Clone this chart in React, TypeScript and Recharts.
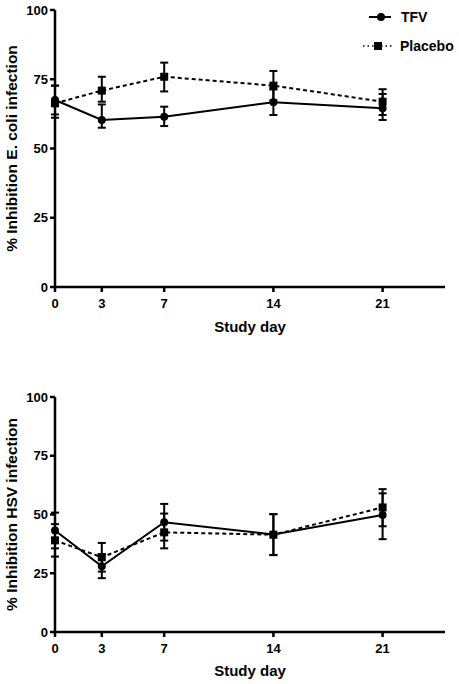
import React from 'react';
import { LineChart, Line, XAxis, YAxis, ErrorBar, Legend } from 'recharts';

const days = [0, 3, 7, 14, 21];
const yTicks = [0, 25, 50, 75, 100];

const ecoliTFV = [67.5, 60.3, 61.5, 66.7, 64.5];
const ecoliTFVErr = [[5.2, 5.2], [2.8, 5.6], [3.4, 3.6], [4.6, 4.6], [4.2, 5.2]];
const ecoliPlacebo = [66.3, 70.9, 75.9, 72.7, 66.9];
const ecoliPlaceboErr = [[5.2, 6.4], [4.0, 5.0], [5.3, 5.1], [5.3, 5.3], [4.8, 4.5]];

const hsvTFV = [43.2, 28.0, 46.7, 41.5, 49.8];
const hsvTFVErr = [[7.6, 7.6], [5.1, 5.1], [7.8, 7.8], [8.7, 8.7], [10.3, 9.2]];
const hsvPlacebo = [39.0, 31.8, 42.4, 41.4, 53.0];
const hsvPlaceboErr = [[6.9, 6.9], [6.1, 6.1], [6.8, 8.0], [8.7, 8.7], [8.0, 7.8]];

const FONT = '"Liberation Sans", Arial, Helvetica, sans-serif';

function build(tfv: number[], tfvErr: number[][], pl: number[], plErr: number[][]) {
  return days.map((d, i) => ({
    day: d,
    tfv: tfv[i],
    tfvErr: tfvErr[i],
    placebo: pl[i],
    placeboErr: plErr[i],
  }));
}

const ecoliData = build(ecoliTFV, ecoliTFVErr, ecoliPlacebo, ecoliPlaceboErr);
const hsvData = build(hsvTFV, hsvTFVErr, hsvPlacebo, hsvPlaceboErr);

const SquareDot = (props: any) => {
  const { cx, cy, index } = props;
  if (cx == null || cy == null) return <g key={`sq-${index}`} />;
  return <rect key={`sq-${index}`} x={cx - 4} y={cy - 4} width={8} height={8} fill="#000" />;
};

const LegendContent = () => (
  <svg width={99} height={60} style={{ display: 'block' }}>
    <line x1={9} y1={17} x2={31} y2={17} stroke="#000" strokeWidth={2} />
    <circle cx={21} cy={17} r={4} fill="#000" />
    <text x={41} y={17} dy="0.36em" fontFamily={FONT} fontWeight="bold" fontSize={14} fill="#000">TFV</text>
    <line x1={3} y1={46} x2={33} y2={46} stroke="#000" strokeWidth={1.5} strokeDasharray="1.5 3" />
    <rect x={14} y={42} width={8} height={8} fill="#000" />
    <text x={40} y={46} dy="0.36em" fontFamily={FONT} fontWeight="bold" fontSize={14} fill="#000">Placebo</text>
  </svg>
);

const axisStyle = { stroke: '#000', strokeWidth: 2.5 };
const tickStyle = { fill: '#000', fontSize: 13, fontWeight: 'bold', fontFamily: FONT };

function Panel({ data, yLabel, marginTop, xAxisHeight, titleOffset, showLegend }: any) {
  return (
    <LineChart
      width={459}
      height={342}
      data={data}
      margin={{ top: marginTop, right: 14, bottom: 0, left: 0 }}
    >
      <XAxis
        type="number"
        dataKey="day"
        domain={[0, 25]}
        ticks={days}
        interval={0}
        height={xAxisHeight}
        tickSize={5}
        tickMargin={7}
        axisLine={axisStyle}
        tickLine={axisStyle}
        tick={tickStyle}
        label={{
          value: 'Study day',
          position: 'insideBottom',
          offset: titleOffset,
          style: { fill: '#000', fontSize: 15, fontWeight: 'bold', fontFamily: FONT },
        }}
      />
      <YAxis
        type="number"
        domain={[0, 100]}
        ticks={yTicks}
        interval={0}
        width={55}
        tickSize={5}
        tickMargin={2}
        axisLine={axisStyle}
        tickLine={axisStyle}
        tick={tickStyle}
        label={{
          value: yLabel,
          angle: -90,
          position: 'insideLeft',
          offset: 11,
          style: { textAnchor: 'middle', fill: '#000', fontSize: 15.5, fontWeight: 'bold', fontFamily: FONT },
        }}
      />
      {showLegend && (
        <Legend
          layout="vertical"
          align="center"
          verticalAlign="middle"
          content={LegendContent}
          wrapperStyle={{ top: 0, left: 360, width: 99, height: 60 }}
        />
      )}
      <Line
        type="linear"
        dataKey="placebo"
        stroke="#000"
        strokeWidth={2}
        strokeDasharray="4 3"
        dot={SquareDot}
        activeDot={false}
        isAnimationActive={false}
      >
        <ErrorBar dataKey="placeboErr" direction="y" width={4} stroke="#000" strokeWidth={2} />
      </Line>
      <Line
        type="linear"
        dataKey="tfv"
        stroke="#000"
        strokeWidth={2}
        dot={{ r: 4, fill: '#000', stroke: '#000', strokeWidth: 0 }}
        activeDot={false}
        isAnimationActive={false}
      >
        <ErrorBar dataKey="tfvErr" direction="y" width={4} stroke="#000" strokeWidth={2} />
      </Line>
    </LineChart>
  );
}

export default function App() {
  return (
    <div style={{ position: 'absolute', left: 0, top: 0, width: 459, height: 684, background: '#fff' }}>
      <Panel
        data={ecoliData}
        yLabel="% Inhibition E. coli infection"
        marginTop={10}
        xAxisHeight={55}
        titleOffset={10}
        showLegend
      />
      <Panel
        data={hsvData}
        yLabel="% Inhibition HSV infection"
        marginTop={55}
        xAxisHeight={52}
        titleOffset={8}
        showLegend={false}
      />
    </div>
  );
}
